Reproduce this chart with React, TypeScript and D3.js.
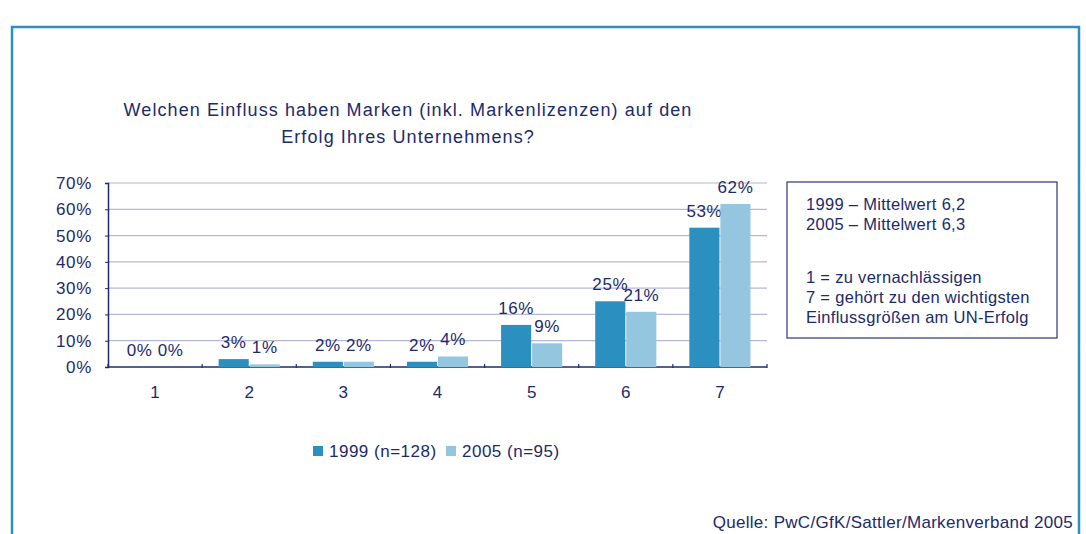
import React, { useEffect, useRef } from 'react';
import * as d3 from 'd3';

const categories = ['1', '2', '3', '4', '5', '6', '7'];
const seriesNames = ['1999 (n=128)', '2005 (n=95)'];
const values1999 = [0, 3, 2, 2, 16, 25, 53];
const values2005 = [0, 1, 2, 4, 9, 21, 62];
const yTicks = [0, 10, 20, 30, 40, 50, 60, 70];
const titleLines = [
  'Welchen Einfluss haben Marken (inkl. Markenlizenzen) auf den',
  'Erfolg Ihres Unternehmens?',
];
const noteLines = [
  '1999 – Mittelwert 6,2',
  '2005 – Mittelwert 6,3',
  '',
  '1 = zu vernachlässigen',
  '7 = gehört zu den wichtigsten',
  'Einflussgrößen am UN-Erfolg',
];
const sourceText = 'Quelle: PwC/GfK/Sattler/Markenverband 2005';

const colors = ['#2b8fc0', '#95c6e0'];
const textColor = '#1c2a6b';
const font = '"Liberation Sans", Arial, sans-serif';

const App: React.FC = () => {
  const svgRef = useRef<SVGSVGElement | null>(null);

  useEffect(() => {
    if (!svgRef.current) return;
    const svg = d3.select(svgRef.current);
    svg.selectAll('*').remove();

    const plot = { left: 108, right: 767, top: 183, bottom: 367 };

    // outer frame (no bottom edge)
    svg.append('path')
      .attr('d', 'M12,534 L12,27 L1079,27 L1079,534')
      .attr('fill', 'none')
      .attr('stroke', '#2b8fc4')
      .attr('stroke-width', 2.5);

    // title
    svg.append('g')
      .selectAll('text')
      .data(titleLines)
      .join('text')
      .attr('x', 408)
      .attr('y', (d, i) => 116 + i * 27)
      .attr('text-anchor', 'middle')
      .attr('font-family', font)
      .attr('font-size', 18)
      .attr('letter-spacing', 1.1)
      .attr('fill', textColor)
      .text(d => d);

    const x0 = d3.scaleBand<string>()
      .domain(categories)
      .range([plot.left, plot.right])
      .padding(0);

    const x1 = d3.scaleBand<string>()
      .domain(seriesNames)
      .range([16.5, x0.bandwidth() - 16.5])
      .paddingInner(0.03);

    const y = d3.scaleLinear()
      .domain([0, 70])
      .range([plot.bottom, plot.top]);

    // gridlines
    svg.append('g')
      .selectAll('line')
      .data(yTicks.filter(t => t > 0))
      .join('line')
      .attr('x1', plot.left)
      .attr('x2', plot.right)
      .attr('y1', d => y(d))
      .attr('y2', d => y(d))
      .attr('stroke', '#b4b8d6')
      .attr('stroke-width', 1.2);

    // y axis
    const yAxis = svg.append('g')
      .attr('transform', `translate(${plot.left},0)`)
      .call(d3.axisLeft(y).tickValues(yTicks).tickSize(3).tickPadding(13).tickFormat(d => `${d}%`));
    yAxis.select('.domain').attr('stroke', textColor).attr('stroke-width', 1.5);
    yAxis.selectAll('.tick line').attr('stroke', textColor);
    yAxis.selectAll('.tick text')
      .attr('font-family', font)
      .attr('font-size', 17)
      .attr('letter-spacing', 0.7)
      .attr('fill', textColor);

    // x axis
    const boundaries = categories.map(c => x0(c) as number).concat([plot.right]);
    svg.append('g')
      .selectAll('line')
      .data(boundaries)
      .join('line')
      .attr('x1', d => d)
      .attr('x2', d => d)
      .attr('y1', plot.bottom - 3)
      .attr('y2', plot.bottom + 1)
      .attr('stroke', textColor)
      .attr('stroke-width', 1.2);
    svg.append('line')
      .attr('x1', plot.left)
      .attr('x2', plot.right)
      .attr('y1', plot.bottom)
      .attr('y2', plot.bottom)
      .attr('stroke', textColor)
      .attr('stroke-width', 1.5);
    svg.append('g')
      .selectAll('text')
      .data(categories)
      .join('text')
      .attr('x', d => (x0(d) as number) + x0.bandwidth() / 2)
      .attr('y', 398)
      .attr('text-anchor', 'middle')
      .attr('font-family', font)
      .attr('font-size', 17)
      .attr('fill', textColor)
      .text(d => d);

    // bars
    const seriesValues = [values1999, values2005];
    seriesValues.forEach((vals, si) => {
      const g = svg.append('g');
      g.selectAll('rect')
        .data(vals)
        .join('rect')
        .attr('x', (d, i) => (x0(categories[i]) as number) + (x1(seriesNames[si]) as number))
        .attr('y', d => y(d))
        .attr('width', x1.bandwidth())
        .attr('height', d => plot.bottom - y(d))
        .attr('fill', colors[si]);
      g.selectAll('text')
        .data(vals)
        .join('text')
        .attr('x', (d, i) => (x0(categories[i]) as number) + (x1(seriesNames[si]) as number) + x1.bandwidth() / 2)
        .attr('y', d => y(d) - 11)
        .attr('text-anchor', 'middle')
        .attr('font-family', font)
        .attr('font-size', 17)
        .attr('letter-spacing', 0.6)
        .attr('fill', textColor)
        .text(d => `${d}%`);
    });

    // note box
    svg.append('rect')
      .attr('x', 787)
      .attr('y', 182)
      .attr('width', 270)
      .attr('height', 156)
      .attr('fill', 'none')
      .attr('stroke', '#2a3878')
      .attr('stroke-width', 1.2);
    svg.append('g')
      .selectAll('text')
      .data(noteLines)
      .join('text')
      .attr('x', 806)
      .attr('y', (d, i) => 210 + i * 20 + (i >= 3 ? 13 : 0))
      .attr('font-family', font)
      .attr('font-size', 16.5)
      .attr('letter-spacing', 0.3)
      .attr('fill', textColor)
      .text(d => d);

    // legend
    const legendItems = [
      { label: seriesNames[0], color: colors[0], x: 313 },
      { label: seriesNames[1], color: colors[1], x: 446 },
    ];
    legendItems.forEach(item => {
      svg.append('rect')
        .attr('x', item.x)
        .attr('y', 446)
        .attr('width', 10)
        .attr('height', 10)
        .attr('fill', item.color);
      svg.append('text')
        .attr('x', item.x + 16)
        .attr('y', 457)
        .attr('font-family', font)
        .attr('font-size', 17)
        .attr('letter-spacing', 0.5)
        .attr('fill', textColor)
        .text(item.label);
    });

    // source
    svg.append('text')
      .attr('x', 1073)
      .attr('y', 528)
      .attr('text-anchor', 'end')
      .attr('font-family', font)
      .attr('font-size', 17)
      .attr('letter-spacing', 0.3)
      .attr('fill', textColor)
      .text(sourceText);
  }, []);

  return (
    <svg
      ref={svgRef}
      width={1086}
      height={534}
      style={{ position: 'absolute', left: 0, top: 0, background: '#fff' }}
    />
  );
};

export default App;
